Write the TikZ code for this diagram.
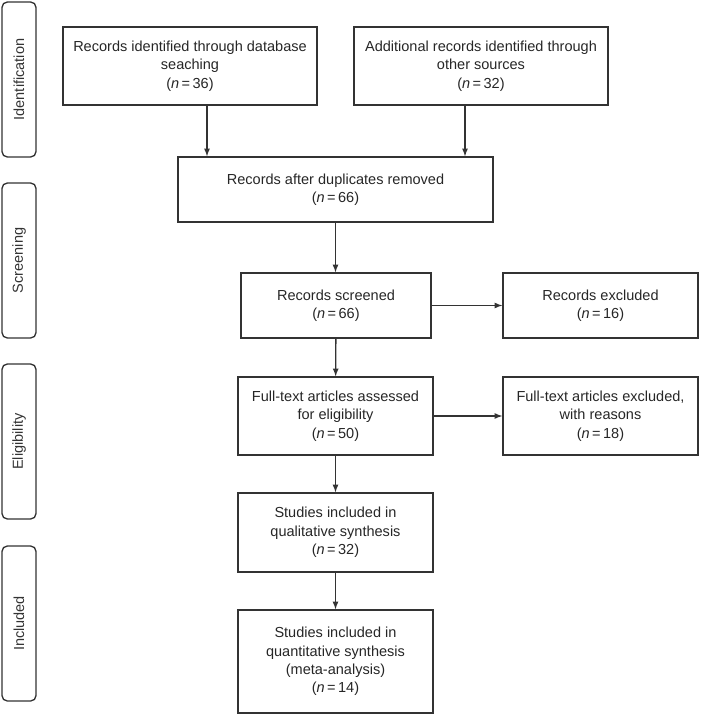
\documentclass[tikz,border=0pt]{standalone}
\usepackage{fontspec}
\setmainfont{Liberation Sans}
\usepackage{xcolor}
\usepackage{tikz}

\newcommand{\nn}[1]{(\textit{n}\,=\,#1)}

\tikzset{
box/.style={draw=black!80, line width=1pt, align=center, text=black!85,
  font=\fontsize{10.9}{13.7}\selectfont, inner sep=2pt},
phase/.style={draw=black!80, line width=1pt, rounded corners=4pt, rotate=90,
  minimum width=116.25pt, minimum height=25.5pt, text=black!80,
  font=\fontsize{10.9}{13.7}\selectfont},
arr/.style={draw=black!80, line width=1pt, -latex}
}

\begin{document}
\begin{tikzpicture}[x=0.75pt,y=-0.75pt]
\useasboundingbox (0,0) rectangle (700,716);

\foreach \y/\t in {79.5/Identification, 260.5/Screening, 441.5/Eligibility, 623.5/Included} {
\node[phase] (\t) at (19,\y) {\t};
}

\node[box, minimum width=190.5pt, minimum height=58.5pt] (db) at (190,66)
  {Records identified through database\\ seaching\\ \nn{36}};
\node[box, minimum width=190.5pt, minimum height=58.5pt] (other) at (481,66)
  {Additional records identified through\\ other sources\\ \nn{32}};
\node[box, minimum width=236.25pt, minimum height=48.75pt] (dup) at (335.5,189.5)
  {Records after duplicates removed\\ \nn{66}};
\node[box, minimum width=142.5pt, minimum height=48.75pt] (scr) at (336,305.5)
  {Records screened\\ \nn{66}};
\node[box, minimum width=146.25pt, minimum height=48.75pt] (excl) at (600.5,305.5)
  {Records excluded\\ \nn{16}};
\node[box, minimum width=146.25pt, minimum height=58.5pt] (full) at (335.5,416)
  {Full-text articles assessed\\ for eligibility\\ \nn{50}};
\node[box, minimum width=146.25pt, minimum height=58.5pt] (fexcl) at (600.5,416)
  {Full-text articles excluded,\\ with reasons\\ \nn{18}};
\node[box, minimum width=146.25pt, minimum height=59.25pt] (qual) at (335.5,532.5)
  {Studies included in\\ qualitative synthesis\\ \nn{32}};
\node[box, minimum width=146.25pt, minimum height=77.25pt] (quant) at (335.5,661.5)
  {Studies included in\\ quantitative synthesis\\ (meta-analysis)\\ \nn{14}};

\draw[arr] ([xshift=12.75pt]db.south) -- ([xshift=12.75pt]db.south |- dup.north);
\draw[arr] ([xshift=-12pt]other.south) -- ([xshift=-12pt]other.south |- dup.north);
\draw[arr] (dup.south) -- (dup.south |- scr.north);
\draw[arr] (scr) -- (full);
\draw[arr] (scr.east) -- (excl.west);
\draw[arr] (full.east) -- (fexcl.west);
\draw[arr] (full) -- (qual);
\draw[arr] (qual) -- (quant);
\end{tikzpicture}
\end{document}
